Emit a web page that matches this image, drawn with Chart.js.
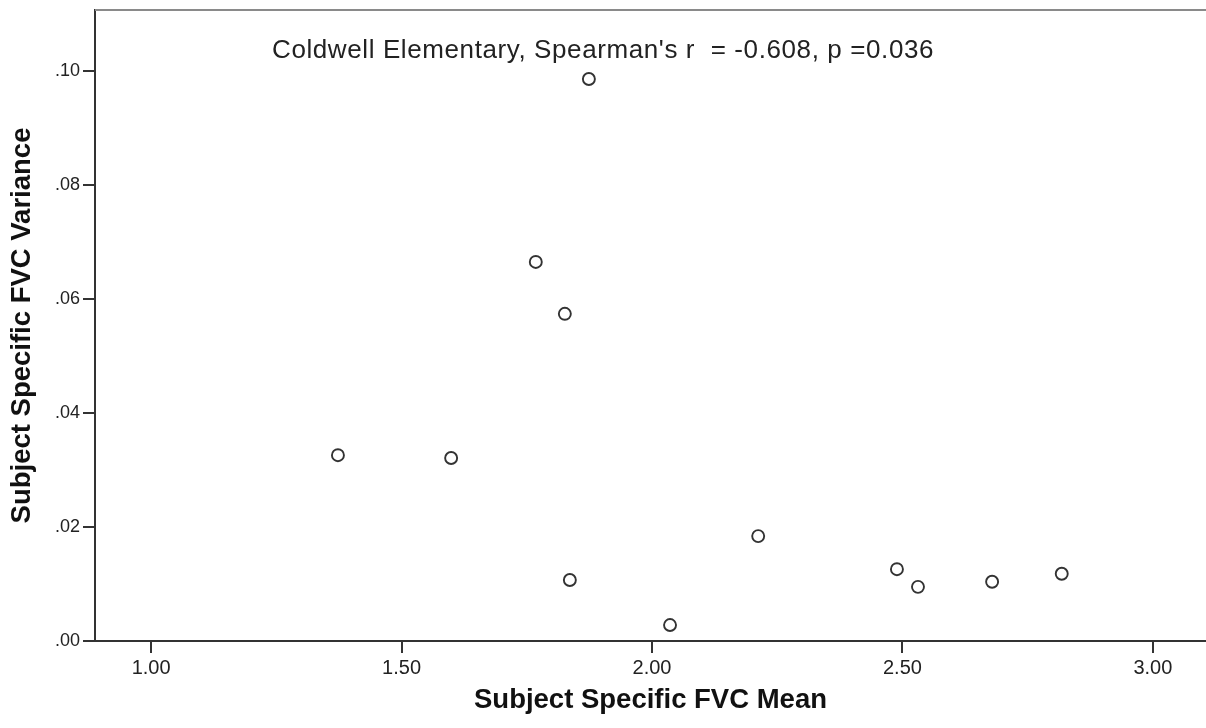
<!DOCTYPE html>
<html lang="en">
<head>
    <meta charset="UTF-8">
    <title>Subject Specific FVC Mean vs Variance</title>
    <script src="https://cdn.jsdelivr.net/npm/chart.js"></script>
    <style>
        body { margin: 0; background: #fff; }
        #chart-container { width: 1206px; height: 728px; }
    </style>
</head>
<body>
    <div id="chart-container">
        <canvas id="fvcChart" width="1206" height="728"></canvas>
    </div>

    <script>
        // Subject means (x) and variances (y)
        const fvcMean = [1.373, 1.599, 1.768, 1.826, 1.874, 1.836, 2.036, 2.212, 2.489, 2.531, 2.679, 2.818];
        const fvcVariance = [0.0326, 0.0321, 0.0665, 0.0574, 0.0986, 0.0107, 0.0028, 0.0184, 0.0126, 0.0095, 0.0104, 0.0118];

        const xTicks = [1.0, 1.5, 2.0, 2.5, 3.0];
        const yTicks = [0.00, 0.02, 0.04, 0.06, 0.08, 0.10];

        const annotationText = "Coldwell Elementary, Spearman's r  = -0.608, p =0.036";

        const points = fvcMean.map((m, i) => ({ x: m, y: fvcVariance[i] }));

        // Top frame line and the correlation note
        const frameAndNote = {
            id: 'frameAndNote',
            afterDraw(chart) {
                const { ctx, chartArea } = chart;
                ctx.save();
                ctx.strokeStyle = '#8a8a8a';
                ctx.lineWidth = 2;
                ctx.beginPath();
                ctx.moveTo(chartArea.left, chartArea.top);
                ctx.lineTo(chart.width, chartArea.top);
                ctx.stroke();

                ctx.fillStyle = '#222';
                ctx.font = '26px "Liberation Sans", Arial, sans-serif';
                ctx.letterSpacing = '0.6px';
                ctx.textAlign = 'left';
                ctx.textBaseline = 'alphabetic';
                ctx.fillText(annotationText, 272, 58);
                ctx.restore();
            }
        };

        const xTickFont = { family: '"Liberation Sans", Arial, sans-serif', size: 20 };
        const yTickFont = { family: '"Liberation Sans", Arial, sans-serif', size: 18 };
        const titleFont = { family: '"Liberation Sans", Arial, sans-serif', size: 27.5, weight: 'bold' };

        new Chart(document.getElementById('fvcChart'), {
            type: 'scatter',
            data: {
                datasets: [{
                    data: points,
                    pointStyle: 'circle',
                    pointRadius: 6,
                    pointHoverRadius: 6,
                    borderColor: '#333',
                    borderWidth: 1.9,
                    backgroundColor: 'rgba(0,0,0,0)'
                }]
            },
            options: {
                responsive: false,
                animation: false,
                layout: { autoPadding: false, padding: { top: 10, right: 0, left: 0, bottom: 0 } },
                plugins: {
                    legend: { display: false },
                    tooltip: { enabled: false }
                },
                scales: {
                    x: {
                        type: 'linear',
                        min: 0.888,
                        max: 3.106,
                        afterBuildTicks: s => { s.ticks = xTicks.map(v => ({ value: v })); },
                        afterFit: s => { s.height = 87; s.paddingLeft = 0; s.paddingRight = 0; },
                        border: { display: true, color: '#333', width: 2 },
                        grid: { drawOnChartArea: false, drawTicks: true, tickLength: 12, tickColor: '#333', lineWidth: 2 },
                        ticks: {
                            color: '#222',
                            font: xTickFont,
                            padding: 3,
                            maxRotation: 0,
                            callback: v => v.toFixed(2)
                        },
                        title: {
                            display: true,
                            text: 'Subject Specific FVC Mean',
                            color: '#111',
                            font: titleFont,
                            padding: { top: 0, bottom: 11 }
                        }
                    },
                    y: {
                        type: 'linear',
                        min: 0,
                        max: 0.1107,
                        afterBuildTicks: s => { s.ticks = yTicks.map(v => ({ value: v })); },
                        afterFit: s => { s.width = 95; s.paddingTop = 0; s.paddingBottom = 0; },
                        border: { display: true, color: '#333', width: 2 },
                        grid: { drawOnChartArea: false, drawTicks: true, tickLength: 12, tickColor: '#333', lineWidth: 2 },
                        ticks: {
                            color: '#222',
                            font: yTickFont,
                            padding: 3,
                            callback: v => v.toFixed(2).replace(/^0/, '')
                        },
                        title: {
                            display: true,
                            text: 'Subject Specific FVC Variance',
                            color: '#111',
                            font: titleFont,
                            padding: { top: 6, bottom: 0 }
                        }
                    }
                }
            },
            plugins: [frameAndNote]
        });
    </script>
</body>
</html>
